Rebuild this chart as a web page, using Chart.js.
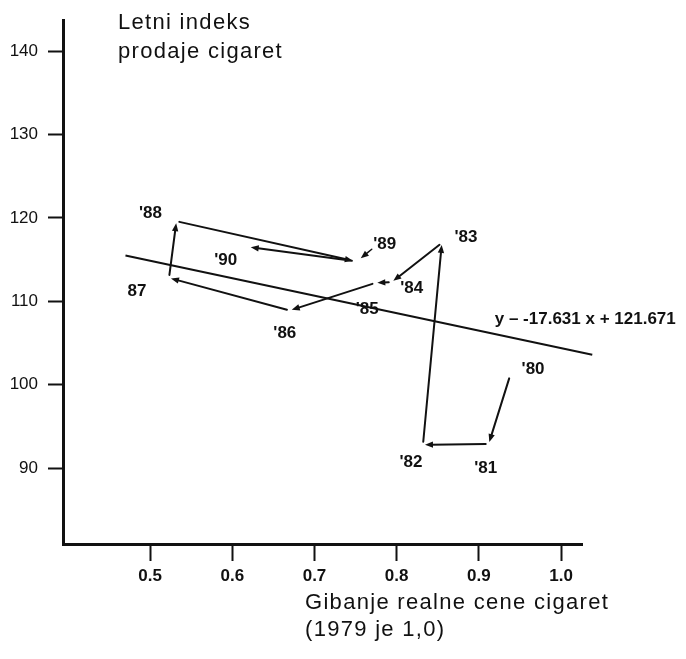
<!DOCTYPE html>
<html>
<head>
<meta charset="utf-8">
<script src="https://cdn.jsdelivr.net/npm/chart.js@4.4.1/dist/chart.umd.min.js"></script>
<style>
  html, body { margin: 0; padding: 0; background: #fff; }
  #wrap { width: 686px; height: 659px; }
</style>
</head>
<body>
<div id="wrap"><canvas id="cigChart" width="686" height="659"></canvas></div>
<script>
// years, real cigarette price (1979 = 1.0) and yearly sales index
const years = ["'80", "'81", "'82", "'83", "'84", "'85", "'86", "87", "'88", "'89", "'90"];
const price = [0.938, 0.912, 0.832, 0.855, 0.794, 0.774, 0.670, 0.523, 0.532, 0.749, 0.620];
const salesIndex = [101.1, 92.9, 92.8, 117.0, 112.3, 112.2, 108.9, 112.8, 119.6, 114.8, 116.5];

// regression line end points as drawn in the figure
const trendX = [0.470, 1.038];
const trendY = [115.5, 103.6];
const trendText = 'y \u2013 -17.631 x + 121.671';

const xTicks = [0.5, 0.6, 0.7, 0.8, 0.9, 1.0];
const yTicks = [90, 100, 110, 120, 130, 140];

// where each year label sits relative to its point (px)
const labelOffsets = [[23, -6], [-3, 24], [-12, 18], [24, -6], [20, 6], [-8, 26], [-5, 23], [-32, 13], [-26, -8], [30, -17], [-23, 13]];

const FONT = '"Liberation Sans", Arial, Helvetica, sans-serif';
const INK = '#111';

function arrow(ctx, x1, y1, x2, y2, gapA, gapB) {
    const dx = x2 - x1, dy = y2 - y1;
    const len = Math.hypot(dx, dy);
    const ux = dx / len, uy = dy / len;
    const sx = x1 + ux * gapA, sy = y1 + uy * gapA;
    const ex = x2 - ux * gapB, ey = y2 - uy * gapB;
    const head = 8, half = 3.2;
    ctx.beginPath();
    ctx.moveTo(sx, sy);
    ctx.lineTo(ex - ux * head * 0.7, ey - uy * head * 0.7);
    ctx.stroke();
    ctx.beginPath();
    ctx.moveTo(ex, ey);
    ctx.lineTo(ex - ux * head - uy * half, ey - uy * head + ux * half);
    ctx.lineTo(ex - ux * head + uy * half, ey - uy * head - ux * half);
    ctx.closePath();
    ctx.fill();
}

const annotate = {
    id: 'annotate',
    afterDatasetsDraw(chart) {
        const ctx = chart.ctx;
        const pts = chart.getDatasetMeta(0).data;
        ctx.save();
        ctx.strokeStyle = INK;
        ctx.fillStyle = INK;
        ctx.lineWidth = 2;
        ctx.lineCap = 'round';
        for (let i = 1; i < pts.length; i++) {
            arrow(ctx, pts[i - 1].x, pts[i - 1].y, pts[i].x, pts[i].y, 3, 2);
        }

        // year labels
        ctx.font = 'bold 17px ' + FONT;
        ctx.textAlign = 'center';
        ctx.textBaseline = 'middle';
        pts.forEach((p, i) => {
            ctx.fillText(years[i], p.x + labelOffsets[i][0], p.y + labelOffsets[i][1]);
        });
        // little pointer from the '89 label
        const p89 = pts[9];
        ctx.lineWidth = 1.5;
        arrow(ctx, p89.x + 17, p89.y - 12, p89.x + 6, p89.y - 3, 0, 0);

        // regression equation
        const tr = chart.getDatasetMeta(1).data[1];
        ctx.font = 'bold 17px ' + FONT;
        ctx.fillText(trendText, tr.x - 7, tr.y - 35);

        // axis titles
        ctx.textAlign = 'left';
        ctx.textBaseline = 'alphabetic';
        ctx.font = '22px ' + FONT;
        if ('letterSpacing' in ctx) ctx.letterSpacing = '1.3px';
        ctx.fillText('Letni indeks', 118, 29);
        ctx.fillText('prodaje cigaret', 118, 58);
        ctx.fillText('Gibanje realne cene cigaret', 305, 609);
        ctx.fillText('(1979 je 1,0)', 305, 636);
        ctx.restore();
    }
};

const ctx = document.getElementById('cigChart').getContext('2d');
new Chart(ctx, {
    type: 'scatter',
    data: {
        datasets: [{
            label: 'Prodaja',
            data: price.map((x, i) => ({ x: x, y: salesIndex[i] })),
            pointRadius: 0,
            showLine: false
        }, {
            label: 'Trend',
            data: trendX.map((x, i) => ({ x: x, y: trendY[i] })),
            showLine: true,
            borderColor: INK,
            borderWidth: 2,
            pointRadius: 0,
            clip: false
        }]
    },
    options: {
        responsive: false,
        animation: false,
        events: [],
        layout: { padding: { left: 0, right: 104, top: 12, bottom: 0 } },
        plugins: { legend: { display: false }, tooltip: { enabled: false } },
        scales: {
            x: {
                type: 'linear',
                min: 0.394,
                max: 1.0255,
                afterBuildTicks: s => { s.ticks = xTicks.map(v => ({ value: v })); },
                afterFit: s => { s.height = 115; },
                grid: { drawOnChartArea: false, tickLength: 17, tickWidth: 2, tickColor: INK },
                border: { display: true, width: 3, color: INK },
                ticks: {
                    color: INK,
                    padding: 5,
                    maxRotation: 0,
                    font: { family: FONT, size: 17, weight: 'bold' },
                    callback: v => v.toFixed(1)
                }
            },
            y: {
                type: 'linear',
                min: 80.9,
                max: 143.7,
                afterBuildTicks: s => { s.ticks = yTicks.map(v => ({ value: v })); },
                afterFit: s => { s.width = 63; },
                grid: { drawOnChartArea: false, tickLength: 15, tickWidth: 2, tickColor: INK },
                border: { display: true, width: 3, color: INK },
                ticks: {
                    color: INK,
                    padding: 10,
                    font: { family: FONT, size: 17 },
                    callback: v => String(v)
                }
            }
        }
    },
    plugins: [annotate]
});
</script>
</body>
</html>
